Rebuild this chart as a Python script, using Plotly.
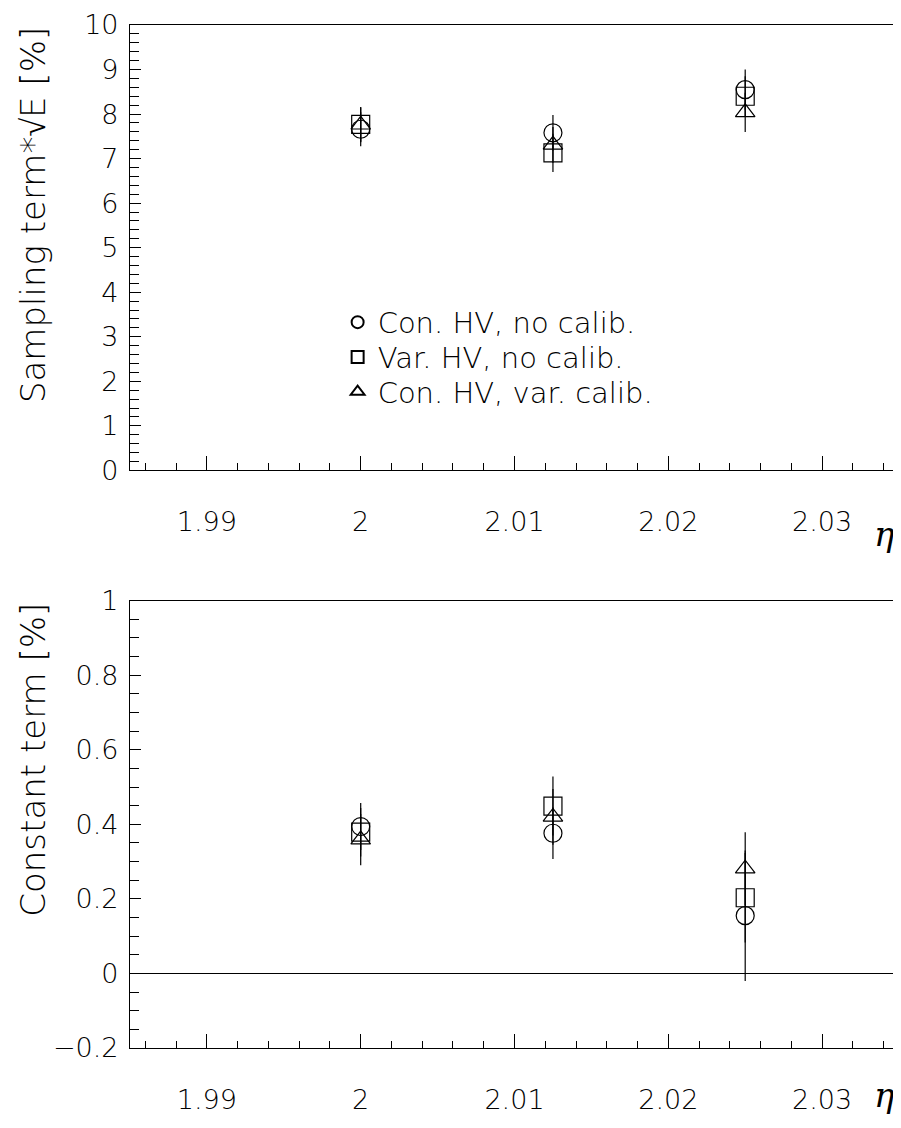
import plotly.graph_objects as go
from plotly.subplots import make_subplots

# ---- data ----
eta = [2.0, 2.0125, 2.025]
series_names = ["Con. HV, no calib.", "Var. HV, no calib.", "Con. HV, var. calib."]
series_symbols = ["circle-open", "square-open", "triangle-up-open"]
series_sizes = [18, 18, 17]

samp_con_nocal = [7.66, 7.58, 8.55]
samp_con_nocal_err = [0.38, 0.40, 0.45]
samp_var_nocal = [7.77, 7.13, 8.40]
samp_var_nocal_err = [0.39, 0.43, 0.45]
samp_con_varcal = [7.76, 7.31, 8.04]
samp_con_varcal_err = [0.39, 0.40, 0.44]

const_con_nocal = [0.394, 0.376, 0.155]
const_con_nocal_err = [0.063, 0.069, 0.175]
const_var_nocal = [0.379, 0.449, 0.203]
const_var_nocal_err = [0.065, 0.079, 0.12]
const_con_varcal = [0.359, 0.420, 0.281]
const_con_varcal_err = [0.069, 0.075, 0.098]

x_ticks = [1.99, 2.0, 2.01, 2.02, 2.03]
x_ticklabels = ["1.99", "2", "2.01", "2.02", "2.03"]

FONT = "DejaVu Sans"
TOP_DOMAIN = [0.5646, 1.0]
BOT_DOMAIN = [0.0, 0.4373]
LEGEND_IDS = ["legend", "legend2", "legend3"]
LEGEND_Y = [0.7094, 0.6754, 0.6414]

fig = make_subplots(rows=2, cols=1, vertical_spacing=0.1273)
samp = [(samp_con_nocal, samp_con_nocal_err), (samp_var_nocal, samp_var_nocal_err),
        (samp_con_varcal, samp_con_varcal_err)]
const = [(const_con_nocal, const_con_nocal_err), (const_var_nocal, const_var_nocal_err),
         (const_con_varcal, const_con_varcal_err)]

for row, data, show in [(1, samp, True), (2, const, False)]:
    for i in range(3):
        y, e = data[i]
        fig.add_trace(go.Scatter(
            x=eta, y=y, mode="markers", name=series_names[i],
            marker=dict(symbol=series_symbols[i], size=series_sizes[i], color="black",
                        line=dict(color="black", width=1.2)),
            error_y=dict(type="data", array=e, visible=True, color="black",
                         thickness=1.2, width=0),
            legend=LEGEND_IDS[i], showlegend=show), row=row, col=1)

fig.update_xaxes(
    range=[1.985, 2.035], tickvals=x_ticks, ticktext=x_ticklabels,
    ticks="inside", ticklen=14, tickwidth=1, tickcolor="black",
    minor=dict(dtick=0.002, tick0=1.98, ticks="inside", ticklen=7, tickwidth=1,
               tickcolor="black"),
    showline=True, linecolor="black", linewidth=1.2, mirror=True,
    showgrid=False, zeroline=False, ticklabelstandoff=27,
    tickfont=dict(family=FONT, size=27, color="black", weight=200),
    domain=[0, 1],
)

common_y = dict(
    ticks="inside", ticklen=11, tickwidth=1, tickcolor="black",
    showline=True, linecolor="black", linewidth=1.2, mirror=True,
    showgrid=False, ticklabelstandoff=5,
    tickfont=dict(family=FONT, size=27, color="black", weight=200),
)
fig.update_yaxes(
    row=1, col=1, range=[0, 10], dtick=1, tick0=0, domain=TOP_DOMAIN,
    minor=dict(dtick=0.2, ticks="inside", ticklen=9, tickwidth=1, tickcolor="black"),
    zeroline=False, **common_y)
fig.update_yaxes(
    row=2, col=1, range=[-0.2, 1.0], dtick=0.2, tick0=0, domain=BOT_DOMAIN,
    minor=dict(dtick=0.05, ticks="inside", ticklen=9, tickwidth=1, tickcolor="black"),
    zeroline=True, zerolinecolor="black", zerolinewidth=1, **common_y)

# axis titles (top-aligned like the original)
for txt, ytop in [("Sampling term*\u221aE [%]", TOP_DOMAIN[1]),
                  ("Constant term [%]", BOT_DOMAIN[1])]:
    fig.add_annotation(text=txt, xref="paper", yref="paper", x=-0.126, y=ytop,
                       xanchor="center", yanchor="top", textangle=-90, showarrow=False,
                       font=dict(family=FONT, size=34, color="black", weight=200))

for yp in [0.502, -0.046]:
    fig.add_annotation(text="\u03b7", xref="paper", yref="paper", x=0.981, y=yp,
                       xanchor="center", yanchor="middle", showarrow=False,
                       font=dict(family="DejaVu Serif", size=34, color="black",
                                 style="italic"))

legend_style = dict(x=0.270, xanchor="left", yanchor="middle",
                    bgcolor="rgba(0,0,0,0)", itemsizing="constant",
                    font=dict(family=FONT, size=29, color="black", weight=200))
fig.update_layout(
    width=893, height=1120,
    margin=dict(l=122, r=1, t=11, b=80),
    paper_bgcolor="white", plot_bgcolor="white",
    font=dict(family=FONT, color="black"),
    legend=dict(y=LEGEND_Y[0], **legend_style),
    legend2=dict(y=LEGEND_Y[1], **legend_style),
    legend3=dict(y=LEGEND_Y[2], **legend_style),
)

fig.write_html("out.html")
